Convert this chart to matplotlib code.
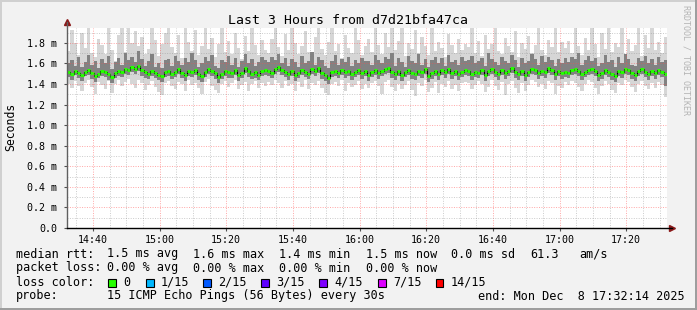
import numpy as np
import matplotlib.pyplot as plt
from matplotlib.patches import Rectangle

W, H = 697, 310
plt.rcParams['font.family'] = ['DejaVu Sans Mono', 'DejaVu Sans']

title = "Last 3 Hours from d7d21bfa47ca"
ylabel = "Seconds"
watermark = "RRDTOOL / TOBI OETIKER"

# time axis in minutes of the day, 14:32:14 .. 17:32:14
start = 14 * 60 + 32 + 14 / 60
span = 180
xtick_pos = [880, 900, 920, 940, 960, 980, 1000, 1020, 1040]
xtick_labels = ["14:40", "15:00", "15:20", "15:40", "16:00", "16:20", "16:40", "17:00", "17:20"]
ytick_vals = [0.0, 0.2, 0.4, 0.6, 0.8, 1.0, 1.2, 1.4, 1.6, 1.8]
ymax = 1.945

# one value per minute, in ms
med = [1.52, 1.50, 1.53, 1.51, 1.49, 1.52, 1.54, 1.51, 1.48, 1.50, 1.53, 1.52, 1.50, 1.47, 1.51,
       1.53, 1.52, 1.55, 1.54, 1.57, 1.55, 1.58, 1.54, 1.52, 1.50, 1.53, 1.51, 1.49, 1.48, 1.52,
       1.53, 1.50, 1.52, 1.55, 1.51, 1.49, 1.53, 1.52, 1.54, 1.50, 1.48, 1.52, 1.55, 1.53, 1.51,
       1.47, 1.50, 1.53, 1.52, 1.51, 1.54, 1.49, 1.51, 1.56, 1.53, 1.50, 1.52, 1.49, 1.53, 1.54,
       1.53, 1.51, 1.55, 1.57, 1.54, 1.52, 1.50, 1.53, 1.49, 1.51, 1.54, 1.52, 1.50, 1.55, 1.53,
       1.56, 1.51, 1.49, 1.46, 1.52, 1.53, 1.51, 1.54, 1.52, 1.53, 1.50, 1.52, 1.54, 1.51, 1.53,
       1.49, 1.52, 1.54, 1.51, 1.53, 1.55, 1.56, 1.52, 1.50, 1.53, 1.49, 1.52, 1.54, 1.51, 1.50,
       1.53, 1.52, 1.55, 1.48, 1.51, 1.53, 1.50, 1.54, 1.52, 1.55, 1.51, 1.53, 1.50, 1.52, 1.54,
       1.53, 1.50, 1.52, 1.51, 1.54, 1.49, 1.53, 1.55, 1.52, 1.50, 1.54, 1.51, 1.53, 1.56, 1.52,
       1.50, 1.53, 1.49, 1.52, 1.55, 1.54, 1.51, 1.53, 1.52, 1.56, 1.54, 1.50, 1.53, 1.51, 1.52,
       1.51, 1.54, 1.55, 1.53, 1.50, 1.52, 1.54, 1.55, 1.53, 1.49, 1.51, 1.54, 1.52, 1.50, 1.48,
       1.53, 1.52, 1.55, 1.54, 1.51, 1.49, 1.53, 1.55, 1.52, 1.50, 1.53, 1.51, 1.54, 1.52, 1.50]
mx = [1.72, 1.93, 1.80, 1.68, 1.90, 1.75, 1.95, 1.70, 1.66, 1.84, 1.78, 1.69, 1.95, 1.73, 1.62,
      1.88, 1.95, 1.71, 1.95, 1.80, 1.92, 1.77, 1.86, 1.69, 1.74, 1.95, 1.83, 1.67, 1.79, 1.90,
      1.95, 1.76, 1.70, 1.88, 1.65, 1.95, 1.81, 1.72, 1.93, 1.68, 1.77, 1.95, 1.74, 1.85, 1.66,
      1.79, 1.95, 1.71, 1.82, 1.69, 1.90, 1.75, 1.64, 1.87, 1.72, 1.95, 1.78, 1.68, 1.83, 1.73,
      1.70, 1.84, 1.95, 1.76, 1.67, 1.89, 1.73, 1.95, 1.80, 1.69, 1.77, 1.92, 1.71, 1.66, 1.86,
      1.95, 1.74, 1.68, 1.81, 1.95, 1.72, 1.79, 1.65, 1.88, 1.75, 1.70, 1.95, 1.83, 1.68, 1.77,
      1.84, 1.71, 1.95, 1.78, 1.69, 1.90, 1.76, 1.95, 1.73, 1.82, 1.95, 1.67, 1.80, 1.74, 1.93,
      1.70, 1.86, 1.77, 1.68, 1.95, 1.72, 1.81, 1.75, 1.66, 1.89, 1.78, 1.70, 1.84, 1.73, 1.79,
      1.76, 1.95, 1.70, 1.82, 1.67, 1.88, 1.74, 1.79, 1.95, 1.72, 1.69, 1.85, 1.77, 1.71, 1.92,
      1.66, 1.80, 1.74, 1.87, 1.70, 1.78, 1.95, 1.73, 1.68, 1.83, 1.76, 1.95, 1.71, 1.81, 1.75,
      1.82, 1.70, 1.95, 1.77, 1.68, 1.85, 1.73, 1.95, 1.79, 1.66, 1.90, 1.74, 1.95, 1.71, 1.80,
      1.76, 1.95, 1.69, 1.84, 1.72, 1.78, 1.95, 1.67, 1.88, 1.75, 1.95, 1.73, 1.81, 1.70, 1.86]
mn = [1.40, 1.36, 1.43, 1.38, 1.33, 1.41, 1.44, 1.37, 1.30, 1.42, 1.39, 1.35, 1.43, 1.31, 1.40,
      1.44, 1.38, 1.42, 1.45, 1.40, 1.36, 1.44, 1.41, 1.34, 1.39, 1.43, 1.37, 1.32, 1.29, 1.41,
      1.43, 1.38, 1.35, 1.42, 1.40, 1.33, 1.44, 1.39, 1.41, 1.36, 1.30, 1.42, 1.45, 1.38, 1.34,
      1.31, 1.40, 1.43, 1.37, 1.41, 1.44, 1.35, 1.39, 1.42, 1.33, 1.40, 1.43, 1.36, 1.41, 1.38,
      1.42, 1.39, 1.44, 1.41, 1.36, 1.43, 1.38, 1.40, 1.33, 1.42, 1.37, 1.44, 1.35, 1.41, 1.39,
      1.43, 1.36, 1.31, 1.29, 1.40, 1.42, 1.38, 1.44, 1.33, 1.41, 1.37, 1.39, 1.43, 1.35, 1.40,
      1.36, 1.41, 1.43, 1.38, 1.30, 1.42, 1.44, 1.37, 1.33, 1.40, 1.35, 1.39, 1.43, 1.34, 1.28,
      1.41, 1.38, 1.44, 1.32, 1.36, 1.42, 1.31, 1.40, 1.37, 1.43, 1.35, 1.39, 1.33, 1.41, 1.42,
      1.41, 1.35, 1.39, 1.43, 1.40, 1.32, 1.37, 1.44, 1.38, 1.34, 1.42, 1.29, 1.40, 1.43, 1.36,
      1.31, 1.41, 1.33, 1.39, 1.44, 1.42, 1.37, 1.40, 1.35, 1.43, 1.41, 1.30, 1.38, 1.36, 1.42,
      1.39, 1.43, 1.41, 1.37, 1.33, 1.40, 1.44, 1.42, 1.36, 1.30, 1.38, 1.43, 1.40, 1.34, 1.31,
      1.41, 1.39, 1.44, 1.42, 1.37, 1.32, 1.40, 1.43, 1.38, 1.35, 1.41, 1.36, 1.42, 1.39, 1.27]
hi = [1.60, 1.63, 1.58, 1.66, 1.57, 1.61, 1.68, 1.59, 1.62, 1.56, 1.64, 1.60, 1.67, 1.55, 1.61,
      1.65, 1.59, 1.70, 1.63, 1.66, 1.61, 1.72, 1.64, 1.58, 1.62, 1.69, 1.57, 1.60, 1.56, 1.63,
      1.64, 1.58, 1.67, 1.62, 1.59, 1.65, 1.61, 1.70, 1.63, 1.57, 1.60, 1.66, 1.62, 1.68, 1.58,
      1.56, 1.63, 1.61, 1.67, 1.59, 1.65, 1.57, 1.62, 1.69, 1.60, 1.64, 1.58, 1.61, 1.66, 1.63,
      1.61, 1.66, 1.63, 1.69, 1.60, 1.65, 1.58, 1.64, 1.61, 1.57, 1.67, 1.60, 1.62, 1.71, 1.59,
      1.66, 1.63, 1.58, 1.56, 1.62, 1.68, 1.59, 1.64, 1.61, 1.66, 1.58, 1.63, 1.60, 1.65, 1.62,
      1.62, 1.59, 1.68, 1.63, 1.60, 1.66, 1.64, 1.70, 1.58, 1.65, 1.61, 1.57, 1.67, 1.62, 1.60,
      1.69, 1.59, 1.64, 1.57, 1.63, 1.66, 1.60, 1.65, 1.58, 1.68, 1.61, 1.63, 1.59, 1.66, 1.62,
      1.63, 1.67, 1.60, 1.62, 1.65, 1.58, 1.70, 1.64, 1.61, 1.59, 1.66, 1.62, 1.60, 1.68, 1.63,
      1.57, 1.65, 1.60, 1.62, 1.69, 1.64, 1.59, 1.67, 1.61, 1.66, 1.63, 1.58, 1.64, 1.60, 1.65,
      1.61, 1.66, 1.64, 1.70, 1.59, 1.63, 1.67, 1.62, 1.65, 1.58, 1.60, 1.68, 1.61, 1.63, 1.57,
      1.66, 1.60, 1.69, 1.64, 1.59, 1.58, 1.65, 1.62, 1.67, 1.60, 1.64, 1.59, 1.66, 1.61, 1.63]
lo = [1.47, 1.44, 1.49, 1.46, 1.43, 1.48, 1.49, 1.45, 1.42, 1.46, 1.48, 1.47, 1.44, 1.41, 1.46,
      1.48, 1.47, 1.50, 1.49, 1.52, 1.50, 1.53, 1.48, 1.46, 1.45, 1.48, 1.46, 1.44, 1.42, 1.47,
      1.48, 1.45, 1.47, 1.50, 1.46, 1.43, 1.48, 1.47, 1.49, 1.44, 1.42, 1.47, 1.50, 1.48, 1.45,
      1.41, 1.45, 1.48, 1.46, 1.46, 1.49, 1.43, 1.46, 1.51, 1.47, 1.45, 1.46, 1.44, 1.48, 1.49,
      1.48, 1.46, 1.50, 1.52, 1.49, 1.47, 1.44, 1.48, 1.43, 1.46, 1.49, 1.47, 1.45, 1.50, 1.48,
      1.51, 1.45, 1.43, 1.40, 1.47, 1.48, 1.46, 1.49, 1.46, 1.48, 1.44, 1.47, 1.49, 1.45, 1.48,
      1.43, 1.47, 1.49, 1.45, 1.48, 1.50, 1.51, 1.46, 1.44, 1.48, 1.43, 1.47, 1.49, 1.45, 1.44,
      1.48, 1.46, 1.50, 1.42, 1.45, 1.48, 1.44, 1.49, 1.46, 1.50, 1.45, 1.48, 1.44, 1.47, 1.49,
      1.48, 1.44, 1.47, 1.46, 1.49, 1.43, 1.48, 1.50, 1.47, 1.44, 1.49, 1.45, 1.48, 1.51, 1.46,
      1.44, 1.48, 1.43, 1.47, 1.50, 1.49, 1.45, 1.48, 1.46, 1.51, 1.49, 1.44, 1.48, 1.45, 1.47,
      1.46, 1.49, 1.50, 1.48, 1.44, 1.47, 1.49, 1.50, 1.48, 1.43, 1.45, 1.49, 1.47, 1.44, 1.42,
      1.48, 1.46, 1.50, 1.49, 1.45, 1.43, 1.48, 1.50, 1.47, 1.44, 1.48, 1.45, 1.49, 1.47, 1.38]

# legend
stat_cols = [107, 193, 279, 366, 451, 530, 579]
rtt_row = ["1.5 ms avg", "1.6 ms max", "1.4 ms min", "1.5 ms now", "0.0 ms sd", "61.3", "am/s"]
loss_row = ["0.00 % avg", "0.00 % max", "0.00 % min", "0.00 % now"]
loss_labels = ["0", "1/15", "2/15", "3/15", "4/15", "7/15", "14/15"]
loss_colors = ["#26ff00", "#00b8ff", "#0059ff", "#5e00ff", "#7e00ff", "#dd00ff", "#ff0000"]
loss_box_x = [108, 146, 203, 261, 319, 378, 436]
probe_text = "15 ICMP Echo Pings (56 Bytes) every 30s"
end_text = "end: Mon Dec  8 17:32:14 2025"

med, mx, mn, hi, lo = map(np.array, (med, mx, mn, hi, lo))
t = start + 0.5 + np.arange(len(med))


def fx(x):
    return x / W


def fy(y):
    return 1 - y / H


fig = plt.figure(figsize=(W / 100, H / 100), dpi=100, facecolor='#f2f2f2')
ax = fig.add_axes([fx(67), fy(228), 600 / W, 200 / H])
ax.set_facecolor('white')
ax.set_xlim(start, start + span)
ax.set_ylim(0, ymax)

# smoke and median
ax.bar(t, mx - mn, bottom=mn, width=1.0, color='#d6d6d6', linewidth=0, zorder=1)
ax.bar(t, hi - lo, bottom=lo, width=1.0, color='#828282', linewidth=0, zorder=1)
ax.step(t, med, where='mid', color='black', lw=0.8, zorder=2)
ax.hlines(med, t - 0.5, t + 0.5, color=loss_colors[0], lw=2.2, zorder=2)

# grid
minor_c = (0.55, 0.55, 0.55, 0.45)
major_c = (1.0, 0.3, 0.3, 0.5)
dots = (0, (1, 1.5))
for m in range(875, 1055, 5):
    if m % 20 != 0:
        ax.axvline(m, color=minor_c, lw=0.7, ls=dots, zorder=3)
for m in xtick_pos:
    ax.axvline(m, color=major_c, lw=0.7, ls=dots, zorder=3)
for v in np.arange(0.1, 1.95, 0.2):
    ax.axhline(v, color=minor_c, lw=0.7, ls=dots, zorder=3)
for v in ytick_vals[1:]:
    ax.axhline(v, color=major_c, lw=0.7, ls=dots, zorder=3)

for s in ax.spines.values():
    s.set_visible(False)
ax.set_xticks(xtick_pos)
ax.set_xticklabels(xtick_labels)
ax.set_yticks(ytick_vals)
ax.set_yticklabels(["0.0"] + ["%.1f m" % v for v in ytick_vals[1:]])
ax.tick_params(axis='both', labelsize=7.2, length=2, width=0.8, color='#505050', pad=3)
ax.tick_params(axis='y', pad=5)

# axis lines with arrows
ax.plot([0, 0], [0, 1.03], transform=ax.transAxes, color='#606060', lw=1, clip_on=False, zorder=4)
ax.plot([0, 1.008], [0, 0], transform=ax.transAxes, color='black', lw=1, clip_on=False, zorder=4)
ax.plot([0], [1.03], marker='^', ms=4, color='#8b1a1a', transform=ax.transAxes, clip_on=False)
ax.plot([1.008], [0], marker='>', ms=4, color='#8b1a1a', transform=ax.transAxes, clip_on=False)

# texts
fig.text(fx(347.5), fy(20), title, ha='center', va='center', fontsize=9.5)
fig.text(fx(11), fy(127), ylabel, rotation=90, ha='center', va='center', fontsize=8.3)
fig.text(fx(686), fy(5), watermark, rotation=270, ha='center', va='top', fontsize=6.0, color='#b4b4b4')

fs = 8.5
base = [257.5, 271.5, 285.5, 299.5]
fig.text(fx(16), fy(base[0]), "median rtt:", fontsize=fs, va='baseline')
for x, s in zip(stat_cols, rtt_row):
    fig.text(fx(x), fy(base[0]), s, fontsize=fs, va='baseline')
fig.text(fx(16), fy(base[1]), "packet loss:", fontsize=fs, va='baseline')
for x, s in zip(stat_cols, loss_row):
    fig.text(fx(x), fy(base[1]), s, fontsize=fs, va='baseline')
fig.text(fx(16), fy(base[2]), "loss color:", fontsize=fs, va='baseline')
for x, s, c in zip(loss_box_x, loss_labels, loss_colors):
    fig.add_artist(Rectangle((fx(x), fy(286.5)), 7.5 / W, 7.5 / H, facecolor=c,
                             edgecolor='black', lw=0.8))
    fig.text(fx(x + 15), fy(base[2]), s, fontsize=fs, va='baseline')
fig.text(fx(16), fy(base[3]), "probe:", fontsize=fs, va='baseline')
fig.text(fx(stat_cols[0]), fy(base[3]), probe_text, fontsize=fs, va='baseline')
fig.text(fx(478), fy(base[3]), end_text, fontsize=fs, va='baseline')

# 3d frame
fig.add_artist(Rectangle((0, 1 - 2 / H), 1, 2 / H, color='#d0d0d0', lw=0))
fig.add_artist(Rectangle((0, 0), 2 / W, 1, color='#d0d0d0', lw=0))
fig.add_artist(Rectangle((0, 0), 1, 2 / H, color='#9e9e9e', lw=0))
fig.add_artist(Rectangle((1 - 2 / W, 0), 2 / W, 1, color='#9e9e9e', lw=0))

fig.savefig('out.png', dpi=100, facecolor=fig.get_facecolor())
